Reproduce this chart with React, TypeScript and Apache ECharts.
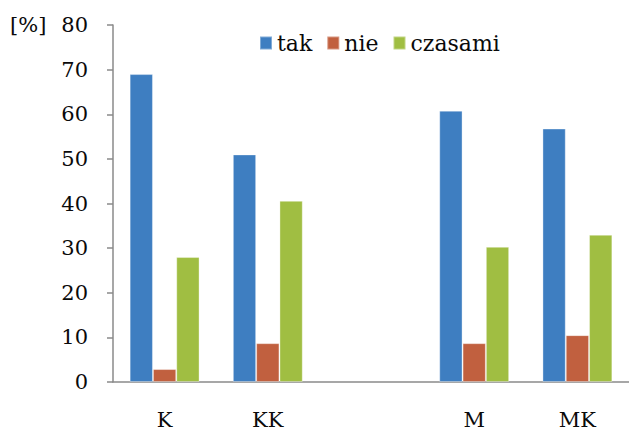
import React, { useEffect, useRef } from "react";
import * as echarts from "echarts";

// Survey answers per group, in percent
const categories = ["K", "KK", "", "M", "MK"];
const seriesNames = ["tak", "nie", "czasami"];
const takValues = [69, 51, null, 60.8, 56.8];
const nieValues = [2.9, 8.7, null, 8.7, 10.5];
const czasamiValues = [28, 40.6, null, 30.3, 33];
const yTicks = { min: 0, max: 80, interval: 10 };
const unitLabel = "[%]";

const colors = ["#3E7EC1", "#C1603F", "#A0BE42"];
const FONT = "DejaVu Serif";
const TEXT = "#0a0a0a";
const AXIS = "#8a8a8a";

export default function App() {
  const ref = useRef<HTMLDivElement>(null);

  useEffect(() => {
    if (!ref.current) return;
    const chart = echarts.init(ref.current, null, { renderer: "svg" });
    const values = [takValues, nieValues, czasamiValues];
    chart.setOption({
      animation: false,
      backgroundColor: "#ffffff",
      color: colors,
      grid: { left: 113, top: 25, right: -6, bottom: 48, containLabel: false },
      legend: {
        left: 259,
        top: 32,
        padding: 0,
        itemWidth: 12,
        itemHeight: 13,
        itemGap: 14,
        icon: "rect",
        textStyle: { fontFamily: FONT, fontSize: 22, color: TEXT },
        data: seriesNames,
      },
      graphic: [
        {
          type: "text",
          left: 10,
          top: 14,
          style: { text: unitLabel, font: `21px '${FONT}'`, fill: TEXT },
        },
      ],
      xAxis: {
        type: "category",
        data: categories,
        axisLine: { lineStyle: { color: AXIS, width: 1.5 } },
        axisTick: { alignWithLabel: false, length: 9, lineStyle: { color: AXIS, width: 1.5 } },
        axisLabel: { margin: 27, fontFamily: FONT, fontSize: 21, color: TEXT },
        splitLine: { show: false },
      },
      yAxis: {
        type: "value",
        min: yTicks.min,
        max: yTicks.max,
        interval: yTicks.interval,
        axisLine: { show: true, lineStyle: { color: AXIS, width: 1.5 } },
        axisTick: { show: true, length: 6, lineStyle: { color: AXIS, width: 1.5 } },
        axisLabel: { margin: 25, fontFamily: FONT, fontSize: 21, color: TEXT },
        splitLine: { show: false },
      },
      series: seriesNames.map((name, i) => ({
        name,
        type: "bar",
        data: values[i],
        barWidth: 23.3,
        barGap: "0%",
        itemStyle: { color: colors[i], borderColor: "rgba(255,255,255,0.35)", borderWidth: 1 },
      })),
    });
    return () => chart.dispose();
  }, []);

  return (
    <div
      ref={ref}
      style={{ position: "absolute", left: 0, top: 0, width: 629, height: 430 }}
    />
  );
}
